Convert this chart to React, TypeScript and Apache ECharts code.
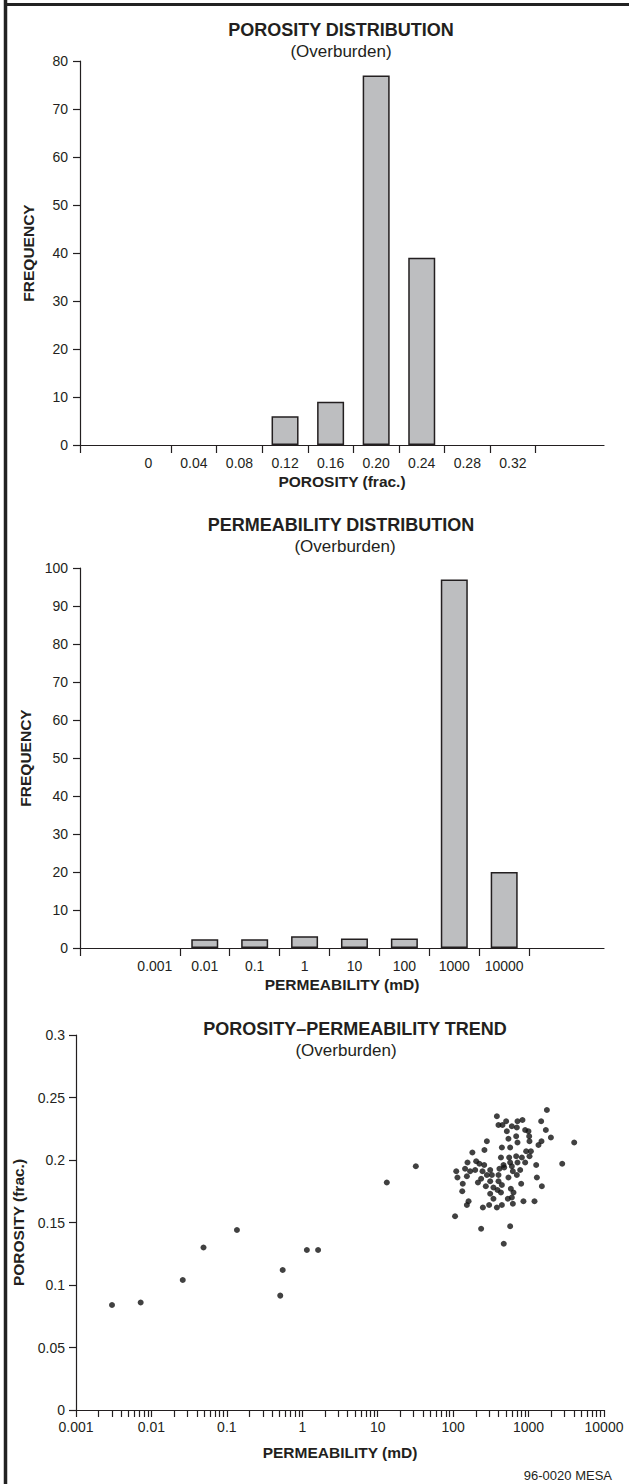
import React, { useEffect, useRef } from "react";
import * as echarts from "echarts";

// ---------- DATA ----------
const porosityLabels = ["0", "0.04", "0.08", "0.12", "0.16", "0.20", "0.24", "0.28", "0.32"];
const porosityFreq = [0, 0, 0, 6, 9, 77, 39, 0, 0];

const permLabels = ["0.001", "0.01", "0.1", "1", "10", "100", "1000", "10000"];
const permFreq = [0, 2.3, 2.3, 3.1, 2.5, 2.5, 97, 20];

const freqMax1 = 80;
const freqMax2 = 100;

const logDecades = [0.001, 0.01, 0.1, 1, 10, 100, 1000, 10000];

// [permeability (mD), porosity (frac.)]
const trendOutliers: [number, number][] = [
  [0.003, 0.084], [0.0072, 0.086], [0.026, 0.104], [0.049, 0.13], [0.136, 0.144],
  [0.51, 0.0915], [0.55, 0.112], [1.15, 0.128], [1.62, 0.128], [13.2, 0.182], [32, 0.195],
];
const trendCluster: [number, number][] = [
  [1749, 0.240], [380, 0.235], [399, 0.228], [451, 0.228], [504, 0.231], [713, 0.231], [830, 0.232],
  [600, 0.227], [699, 0.226], [1469, 0.231], [515, 0.223], [901, 0.224], [997, 0.223], [1694, 0.224],
  [1019, 0.219], [685, 0.219], [1977, 0.218], [541, 0.217], [1028, 0.215], [1483, 0.215], [280, 0.215],
  [713, 0.214], [1353, 0.212], [4027, 0.214], [443, 0.210], [570, 0.210], [180, 0.206], [260, 0.208],
  [929, 0.207], [1073, 0.207], [430, 0.202], [553, 0.202], [685, 0.203], [815, 0.202], [1028, 0.203],
  [155, 0.198], [202, 0.199], [223, 0.197], [258, 0.196], [465, 0.196], [570, 0.198], [600, 0.195],
  [713, 0.198], [901, 0.198], [1262, 0.196], [2793, 0.197], [110, 0.191], [144, 0.193], [168, 0.191],
  [196, 0.192], [245, 0.191], [310, 0.192], [411, 0.193], [475, 0.194], [619, 0.191], [774, 0.192],
  [280, 0.188], [326, 0.188], [399, 0.188], [541, 0.186], [699, 0.188], [114, 0.186], [152, 0.187],
  [235, 0.185], [213, 0.182], [310, 0.183], [399, 0.183], [798, 0.181], [1288, 0.186], [134, 0.181],
  [271, 0.179], [342, 0.178], [443, 0.180], [1500, 0.179], [387, 0.176], [582, 0.177], [132, 0.175],
  [310, 0.173], [430, 0.174], [631, 0.174], [531, 0.169], [600, 0.170], [342, 0.169], [160, 0.167],
  [152, 0.164], [855, 0.167], [1198, 0.167], [619, 0.165], [300, 0.164], [443, 0.164], [248, 0.162],
  [380, 0.162], [106, 0.155], [235, 0.145], [469, 0.133], [570, 0.147],
];

// ---------- STYLE ----------
const INK = "#231f20";
const BAR_FILL = "#bdbec0";
const SANS = '"Liberation Sans", Arial, Helvetica, sans-serif';

const tickLabel = { color: INK, fontFamily: SANS, fontSize: 14 };
const axisNameStyle = { color: INK, fontFamily: SANS, fontSize: 15.5, fontWeight: "bold" as const };
const lineStyle = { color: INK, width: 1.2 };

function barXAxis(gridIndex: number, labels: string[], max: number, name: string, nameGap: number) {
  const tickPos = [-1.5, ...labels.map((_, i) => i + 0.5)];
  return {
    gridIndex,
    type: "value",
    min: -1.5,
    max,
    axisLine: { show: true, onZero: false, lineStyle },
    axisTick: { show: true, customValues: tickPos, length: 8, lineStyle },
    axisLabel: {
      ...tickLabel,
      customValues: labels.map((_, i) => i),
      formatter: (v: number) => labels[Math.round(v)] ?? "",
      margin: 11,
      showMinLabel: true,
      showMaxLabel: true,
    },
    splitLine: { show: false },
    name,
    nameLocation: "middle",
    nameGap,
    nameTextStyle: axisNameStyle,
  };
}

function freqYAxis(gridIndex: number, max: number) {
  return {
    gridIndex,
    type: "value",
    min: 0,
    max,
    interval: 10,
    axisLine: { show: true, onZero: false, lineStyle },
    axisTick: { show: true, length: 7, lineStyle },
    axisLabel: { ...tickLabel, margin: 12 },
    splitLine: { show: false },
    name: "FREQUENCY",
    nameLocation: "middle",
    nameRotate: 90,
    nameGap: 44,
    nameTextStyle: axisNameStyle,
  };
}

function barData(freq: number[]) {
  return freq.map((f, i) => [i, f]).filter((d) => d[1] > 0);
}

const barItemStyle = { color: BAR_FILL, borderColor: INK, borderWidth: 1.5 };

function titleBlock(cx: number, y1: number, y2: number, title: string, sub: string, cx2?: number) {
  return [
    {
      type: "text",
      x: cx,
      y: y1,
      style: { text: title, fill: INK, font: `bold 18px ${SANS}`, textAlign: "center", textVerticalAlign: "middle" },
    },
    {
      type: "text",
      x: cx2 ?? cx,
      y: y2,
      style: { text: sub, fill: INK, font: `17px ${SANS}`, textAlign: "center", textVerticalAlign: "middle" },
    },
  ];
}

export default function App() {
  const ref = useRef<HTMLDivElement>(null);

  useEffect(() => {
    document.body.style.margin = "0";
    if (!ref.current) return;
    const chart = echarts.init(ref.current, undefined, { renderer: "svg" });

    const logTicks: number[] = [];
    logDecades.forEach((d, i) => {
      logTicks.push(d);
      if (i < logDecades.length - 1) {
        for (let m = 2; m <= 9; m++) logTicks.push(Number((m * d).toPrecision(6)));
      }
    });

    const option = {
      animation: false,
      backgroundColor: "#ffffff",
      grid: [
        { left: 80, top: 61, width: 524, height: 384 },
        { left: 80, top: 568, width: 524, height: 380 },
        { left: 76, top: 1035, width: 528, height: 375 },
      ],
      xAxis: [
        barXAxis(0, porosityLabels, 10, "POROSITY (frac.)", 28),
        barXAxis(1, permLabels, 9, "PERMEABILITY (mD)", 28),
        {
          gridIndex: 2,
          type: "log",
          logBase: 10,
          min: 0.001,
          max: 10000,
          axisLine: { show: true, onZero: false, lineStyle },
          axisTick: { show: true, customValues: logTicks, length: 7, lineStyle },
          axisLabel: {
            ...tickLabel,
            customValues: logDecades,
            formatter: (v: number) => String(Number(v.toPrecision(6))),
            margin: 10,
            showMinLabel: true,
            showMaxLabel: true,
          },
          minorTick: { show: false },
          splitLine: { show: false },
          name: "PERMEABILITY (mD)",
          nameLocation: "middle",
          nameGap: 34,
          nameTextStyle: axisNameStyle,
        },
      ],
      yAxis: [
        freqYAxis(0, freqMax1),
        freqYAxis(1, freqMax2),
        {
          gridIndex: 2,
          type: "value",
          min: 0,
          max: 0.3,
          interval: 0.05,
          axisLine: { show: true, onZero: false, lineStyle },
          axisTick: { show: true, length: 7, lineStyle },
          axisLabel: { ...tickLabel, margin: 11 },
          splitLine: { show: false },
          name: "POROSITY (frac.)",
          nameLocation: "middle",
          nameRotate: 90,
          nameGap: 40,
          nameTextStyle: axisNameStyle,
        },
      ],
      series: [
        {
          type: "bar",
          xAxisIndex: 0,
          yAxisIndex: 0,
          data: barData(porosityFreq),
          barWidth: 27,
          itemStyle: barItemStyle,
        },
        {
          type: "bar",
          xAxisIndex: 1,
          yAxisIndex: 1,
          data: barData(permFreq),
          barWidth: 27,
          itemStyle: barItemStyle,
        },
        {
          type: "scatter",
          xAxisIndex: 2,
          yAxisIndex: 2,
          data: [...trendOutliers, ...trendCluster],
          symbolSize: 6,
          itemStyle: { color: "#111111" },
        },
      ],
      graphic: [
        { type: "line", shape: { x1: 5.5, y1: 0, x2: 5.5, y2: 1484 }, style: { stroke: "#222", lineWidth: 3.5 } },
        { type: "line", shape: { x1: 4, y1: 4.5, x2: 629, y2: 4.5 }, style: { stroke: "#222", lineWidth: 3 } },
        ...titleBlock(341, 30, 51, "POROSITY DISTRIBUTION", "(Overburden)"),
        ...titleBlock(341, 525, 546, "PERMEABILITY DISTRIBUTION", "(Overburden)", 345),
        ...titleBlock(355, 1029, 1050, "POROSITY\u2013PERMEABILITY TREND", "(Overburden)", 346),
        {
          type: "text",
          x: 612,
          y: 1475,
          style: { text: "96-0020 MESA", fill: INK, font: `13px ${SANS}`, textAlign: "right", textVerticalAlign: "middle" },
        },
      ],
    };

    chart.setOption(option as any);
    return () => chart.dispose();
  }, []);

  return <div ref={ref} style={{ width: 629, height: 1484 }} />;
}
